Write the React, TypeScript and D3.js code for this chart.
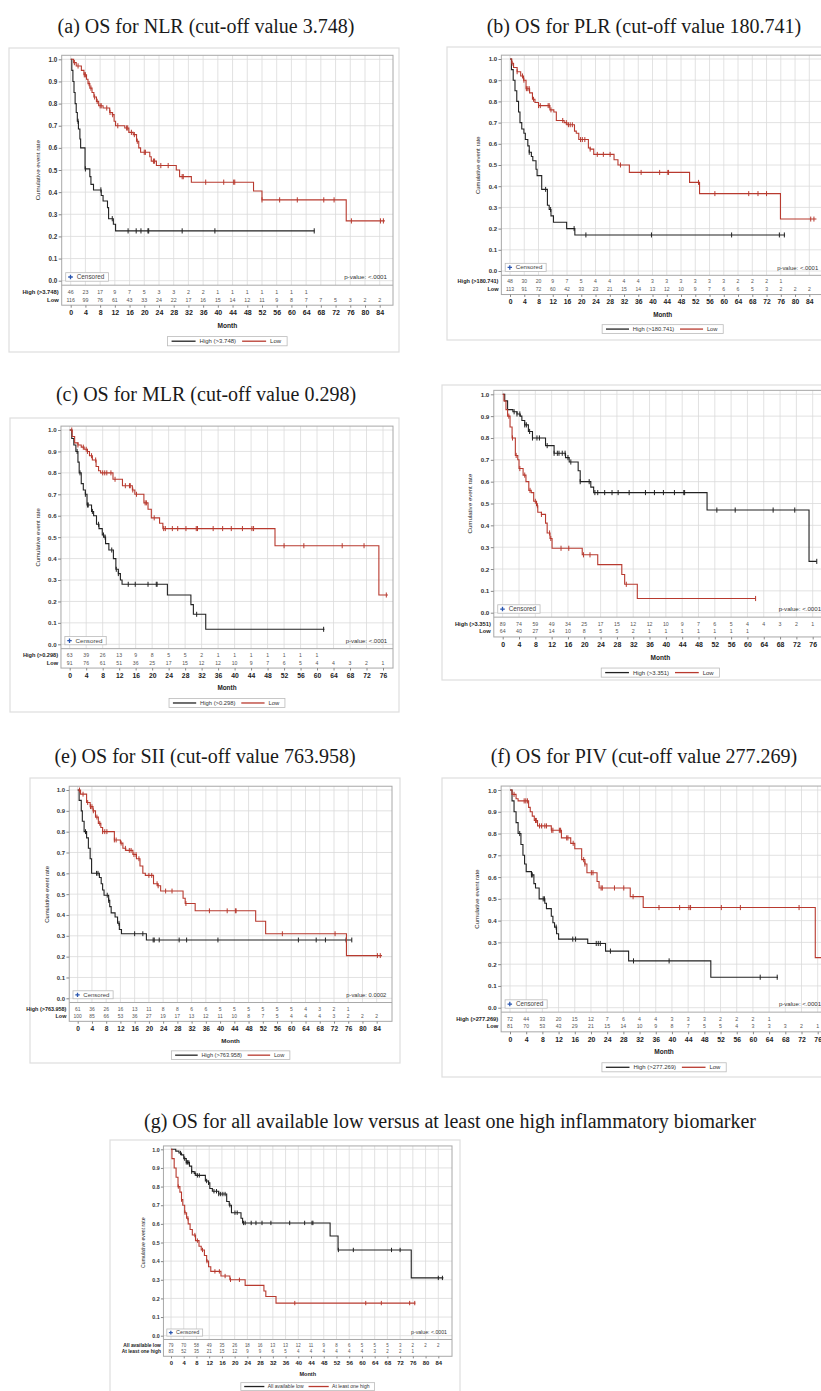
import React, { useEffect, useRef } from 'react';
import * as d3 from 'd3';

type Pt = [number, number];

// tick labels
const months84 = [0, 4, 8, 12, 16, 20, 24, 28, 32, 36, 40, 44, 48, 52, 56, 60, 64, 68, 72, 76, 80, 84];
const months76 = [0, 4, 8, 12, 16, 20, 24, 28, 32, 36, 40, 44, 48, 52, 56, 60, 64, 68, 72, 76];
const rateTicks = [0, 0.1, 0.2, 0.3, 0.4, 0.5, 0.6, 0.7, 0.8, 0.9, 1.0];

// (a) NLR
const nlrHigh: Pt[] = [[0, 1], [0.3, 0.95], [0.6, 0.9], [0.9, 0.85], [1.2, 0.8], [1.5, 0.76], [1.8, 0.72], [2.1, 0.685], [2.5, 0.64], [2.7, 0.6], [3.9, 0.505], [5.2, 0.47], [5.5, 0.435], [6.2, 0.41], [8.3, 0.385], [8.8, 0.36], [10.0, 0.33], [10.3, 0.28], [11.6, 0.255], [12.2, 0.225], [66.3, 0.225]];
const nlrHighCens = [2.0, 4.0, 8.2, 11.3, 15.6, 17.8, 19.1, 21.0, 21.2, 30.3, 39.2, 66.2];
const nlrLow: Pt[] = [[0, 1], [0.8, 0.985], [1.5, 0.97], [2.9, 0.95], [3.6, 0.93], [4.3, 0.91], [4.7, 0.89], [5.2, 0.87], [5.8, 0.85], [6.3, 0.83], [7.0, 0.81], [7.6, 0.79], [8.8, 0.78], [10.6, 0.76], [11.3, 0.75], [11.8, 0.72], [12.2, 0.7], [14.7, 0.69], [15.8, 0.67], [17.0, 0.66], [17.9, 0.63], [18.5, 0.6], [19.0, 0.58], [21.5, 0.56], [21.9, 0.54], [23.3, 0.52], [28.7, 0.5], [29.6, 0.47], [32.8, 0.445], [49.7, 0.405], [52.0, 0.365], [74.9, 0.27], [85.4, 0.27]];
const nlrLowCens = [1.0, 2.0, 3.7, 4.0, 5.0, 5.5, 6.5, 7.2, 8.0, 8.3, 9.8, 10.7, 11.4, 12.8, 15.2, 15.5, 16.5, 17.3, 18.1, 20.0, 20.3, 22.5, 22.8, 24.5, 26.5, 30.3, 30.6, 36.7, 41.6, 44.3, 44.6, 52.0, 56.8, 61.6, 68.8, 71.6, 76.3, 84.2, 85.0];
const nlrRiskHigh = [46, 23, 17, 9, 7, 5, 3, 3, 2, 2, 1, 1, 1, 1, 1, 1, 1];
const nlrRiskLow = [116, 99, 76, 61, 43, 33, 24, 22, 17, 16, 15, 14, 12, 11, 9, 8, 7, 7, 5, 3, 2, 2];

// (b) PLR
const plrHigh: Pt[] = [[0, 1], [0.4, 0.95], [0.9, 0.9], [1.4, 0.85], [1.9, 0.8], [2.4, 0.75], [2.8, 0.7], [3.3, 0.67], [3.9, 0.65], [4.3, 0.62], [5.0, 0.59], [5.4, 0.56], [6.0, 0.54], [6.4, 0.52], [7.3, 0.48], [7.6, 0.45], [8.9, 0.385], [10.5, 0.31], [11.0, 0.29], [11.5, 0.26], [12.2, 0.23], [15.9, 0.2], [18.2, 0.17], [77.2, 0.17]];
const plrHighCens = [5.4, 10.0, 11.4, 18.0, 21.3, 39.7, 62.2, 75.6, 77.0];
const plrLow: Pt[] = [[0, 1], [0.5, 0.98], [1.0, 0.96], [2.0, 0.94], [3.0, 0.92], [3.8, 0.9], [4.5, 0.86], [5.5, 0.84], [6.3, 0.81], [7.0, 0.795], [8.0, 0.78], [11.2, 0.76], [12.3, 0.75], [13.0, 0.71], [15.2, 0.7], [16.0, 0.69], [18.1, 0.66], [18.6, 0.65], [19.3, 0.62], [22.0, 0.58], [22.5, 0.575], [23.5, 0.55], [29.2, 0.525], [30.3, 0.5], [33.5, 0.465], [50.4, 0.418], [53.2, 0.365], [75.9, 0.245], [86.0, 0.245]];
const plrLowCens = [0.6, 2.0, 3.5, 3.9, 4.6, 5.0, 5.4, 6.6, 8.0, 8.5, 10.7, 11.0, 11.5, 14.8, 15.8, 16.4, 16.9, 17.5, 19.8, 20.3, 21.0, 22.5, 24.5, 26.2, 28.1, 31.0, 36.8, 42.0, 44.3, 44.5, 52.9, 57.5, 67.0, 69.6, 72.0, 84.4, 85.3];
const plrRiskHigh = [48, 30, 20, 9, 7, 5, 4, 4, 4, 4, 3, 3, 3, 3, 3, 3, 2, 2, 2, 1];
const plrRiskLow = [113, 91, 72, 60, 42, 33, 23, 21, 15, 14, 13, 12, 10, 9, 7, 6, 6, 5, 3, 2, 2, 2];

// (c) MLR
const mlrHigh: Pt[] = [[0, 1], [0.5, 0.96], [1.0, 0.93], [1.5, 0.9], [2.0, 0.85], [2.3, 0.8], [2.8, 0.75], [3.3, 0.72], [3.8, 0.7], [4.2, 0.65], [5.3, 0.62], [5.8, 0.6], [6.5, 0.56], [7.1, 0.54], [7.9, 0.51], [8.3, 0.5], [8.7, 0.47], [9.5, 0.44], [10.6, 0.4], [11.2, 0.35], [11.8, 0.33], [12.3, 0.3], [12.7, 0.28], [23.7, 0.23], [29.4, 0.185], [30.0, 0.14], [33.0, 0.07], [61.8, 0.07]];
const mlrHighCens = [1.8, 2.5, 3.8, 4.3, 4.5, 5.5, 7.0, 8.2, 8.6, 10.2, 11.3, 11.8, 14.2, 15.9, 19.0, 21.0, 21.2, 30.8, 61.6];
const mlrLow: Pt[] = [[0, 1], [0.6, 0.97], [1.2, 0.94], [2.0, 0.93], [2.8, 0.92], [3.5, 0.91], [4.3, 0.9], [4.8, 0.88], [5.5, 0.86], [6.4, 0.83], [7.0, 0.81], [7.5, 0.8], [10.5, 0.77], [12.8, 0.74], [15.2, 0.72], [15.8, 0.7], [18.0, 0.66], [19.0, 0.63], [19.8, 0.59], [21.8, 0.565], [22.6, 0.54], [49.8, 0.46], [75.0, 0.23], [77.2, 0.23]];
const mlrLowCens = [0.5, 2.0, 3.3, 4.0, 4.3, 5.3, 6.3, 8.0, 8.5, 9.0, 10.0, 11.0, 13.5, 14.5, 14.7, 15.3, 16.2, 18.3, 18.6, 20.5, 22.8, 23.2, 24.9, 26.2, 28.2, 30.7, 31.0, 34.8, 37.1, 39.2, 41.9, 44.2, 44.6, 52.0, 56.8, 66.1, 71.4, 76.8];
const mlrRiskHigh = [63, 39, 26, 13, 9, 8, 5, 5, 2, 1, 1, 1, 1, 1, 1, 1];
const mlrRiskLow = [91, 76, 61, 51, 36, 25, 17, 15, 12, 12, 10, 9, 7, 6, 5, 4, 4, 3, 2, 1];

// (d) LMR
const lmrHigh: Pt[] = [[0, 1], [0.5, 0.97], [1.2, 0.93], [2.5, 0.92], [3.5, 0.91], [4.3, 0.9], [4.7, 0.88], [5.4, 0.86], [6.3, 0.83], [7.3, 0.8], [10.5, 0.765], [12.6, 0.73], [15.4, 0.71], [16.3, 0.69], [18.5, 0.65], [19.0, 0.6], [21.6, 0.575], [22.3, 0.55], [50.1, 0.47], [75.1, 0.235], [77.0, 0.235]];
const lmrHighCens = [2.8, 3.5, 4.2, 5.4, 5.8, 6.6, 7.3, 8.4, 9.0, 10.9, 12.6, 13.4, 13.8, 14.6, 15.3, 16.0, 16.7, 19.0, 21.2, 22.6, 23.3, 25.0, 26.8, 28.3, 31.0, 35.0, 37.2, 39.4, 42.1, 44.4, 44.6, 52.5, 57.0, 66.3, 71.6, 77.0];
const lmrLow: Pt[] = [[0, 1], [0.3, 0.97], [0.8, 0.93], [1.2, 0.9], [1.8, 0.85], [2.3, 0.8], [3.1, 0.72], [3.7, 0.7], [4.0, 0.66], [5.0, 0.63], [5.7, 0.6], [6.4, 0.56], [7.0, 0.55], [7.6, 0.51], [8.3, 0.49], [8.6, 0.46], [9.5, 0.45], [10.5, 0.41], [10.9, 0.365], [11.6, 0.34], [12.1, 0.295], [19.5, 0.265], [23.3, 0.22], [29.2, 0.175], [29.9, 0.13], [33.0, 0.065], [62.0, 0.065]];
const lmrLowCens = [1.5, 2.4, 3.3, 4.2, 5.4, 6.7, 8.0, 8.5, 9.5, 11.5, 11.8, 14.3, 16.2, 19.8, 21.4, 30.3, 62.0];
const lmrRiskHigh = [89, 74, 59, 49, 34, 25, 17, 15, 12, 12, 10, 9, 7, 6, 5, 4, 4, 3, 2, 1];
const lmrRiskLow = [64, 40, 27, 14, 10, 8, 5, 5, 2, 1, 1, 1, 1, 1, 1, 1];

// (e) SII
const siiHigh: Pt[] = [[0, 1], [0.4, 0.95], [1.0, 0.9], [1.3, 0.85], [1.8, 0.8], [2.5, 0.77], [3.0, 0.72], [3.5, 0.67], [3.9, 0.6], [6.1, 0.58], [6.6, 0.55], [7.0, 0.52], [7.4, 0.495], [8.7, 0.47], [9.0, 0.44], [9.4, 0.41], [10.5, 0.39], [11.2, 0.36], [11.7, 0.33], [12.3, 0.31], [19.3, 0.28], [77.0, 0.28]];
const siiHighCens = [2.2, 5.3, 5.7, 8.3, 8.7, 11.6, 16.0, 18.3, 21.2, 21.5, 22.9, 28.5, 30.6, 39.4, 62.0, 67.0, 69.6, 75.4, 77.0];
const siiLow: Pt[] = [[0, 1], [0.8, 0.98], [2.5, 0.94], [3.5, 0.92], [4.3, 0.9], [5.0, 0.87], [5.8, 0.84], [6.5, 0.82], [7.0, 0.8], [10.3, 0.76], [12.0, 0.745], [12.7, 0.72], [13.5, 0.71], [15.5, 0.69], [16.5, 0.67], [17.5, 0.635], [18.3, 0.6], [19.0, 0.59], [21.3, 0.55], [22.5, 0.54], [23.3, 0.515], [29.6, 0.48], [30.2, 0.455], [33.0, 0.42], [50.0, 0.37], [52.8, 0.31], [75.5, 0.205], [85.5, 0.205]];
const siiLowCens = [0.5, 1.5, 2.8, 3.6, 4.0, 4.4, 5.4, 6.2, 7.0, 7.6, 8.2, 10.3, 10.8, 12.2, 13.4, 14.5, 15.0, 15.8, 16.4, 17.2, 20.0, 20.8, 22.3, 22.6, 24.7, 26.5, 30.4, 37.0, 42.0, 44.3, 44.5, 57.5, 72.3, 84.2, 85.0];
const siiRiskHigh = [61, 36, 26, 16, 13, 11, 8, 8, 6, 6, 5, 5, 5, 5, 5, 5, 4, 3, 2, 1];
const siiRiskLow = [100, 85, 66, 53, 36, 27, 19, 17, 13, 12, 11, 10, 8, 7, 5, 4, 4, 4, 3, 2, 2, 2];

// (f) PIV
const pivHigh: Pt[] = [[0, 1], [0.5, 0.95], [1.0, 0.9], [1.5, 0.85], [2.0, 0.8], [2.7, 0.75], [3.2, 0.7], [3.6, 0.66], [4.0, 0.625], [5.3, 0.61], [5.9, 0.57], [6.3, 0.55], [7.2, 0.5], [8.6, 0.48], [9.0, 0.455], [10.2, 0.42], [10.6, 0.39], [11.0, 0.37], [11.5, 0.34], [12.0, 0.315], [19.2, 0.295], [23.6, 0.26], [29.3, 0.215], [49.6, 0.14], [66.2, 0.14]];
const pivHighCens = [2.4, 5.3, 5.5, 8.2, 8.5, 11.4, 15.5, 16.2, 21.3, 21.8, 22.3, 24.8, 30.5, 39.3, 61.8, 66.0];
const pivLow: Pt[] = [[0, 1], [0.5, 0.98], [1.5, 0.96], [2.0, 0.95], [4.6, 0.92], [5.0, 0.9], [5.5, 0.88], [6.0, 0.86], [6.8, 0.835], [10.2, 0.815], [12.7, 0.78], [15.0, 0.755], [16.0, 0.73], [17.7, 0.68], [18.5, 0.66], [19.0, 0.62], [21.5, 0.58], [22.0, 0.55], [29.7, 0.51], [32.9, 0.46], [75.4, 0.23], [77.0, 0.23]];
const pivLowCens = [1.0, 3.5, 3.9, 4.3, 6.3, 6.5, 7.3, 7.8, 8.6, 9.0, 10.3, 10.6, 12.2, 12.5, 14.0, 14.3, 15.6, 18.2, 18.5, 20.1, 20.5, 22.5, 22.8, 25.8, 28.1, 30.4, 36.8, 41.9, 44.2, 44.6, 52.2, 56.9, 71.4, 77.0];
const pivRiskHigh = [72, 44, 33, 20, 15, 12, 7, 6, 4, 4, 3, 3, 3, 2, 2, 2, 1];
const pivRiskLow = [81, 70, 53, 43, 29, 21, 15, 14, 10, 9, 8, 7, 5, 5, 4, 3, 3, 3, 2, 1];

// (g) all low vs at least one high
const allLow: Pt[] = [[0, 1], [1.5, 0.99], [2.5, 0.98], [3.3, 0.97], [4.0, 0.95], [4.8, 0.93], [5.8, 0.91], [6.5, 0.88], [7.3, 0.87], [7.8, 0.86], [10.8, 0.83], [11.8, 0.82], [12.2, 0.79], [13.0, 0.775], [15.0, 0.76], [17.5, 0.72], [18.3, 0.7], [19.0, 0.66], [22.0, 0.63], [22.5, 0.605], [50.0, 0.535], [52.5, 0.46], [75.5, 0.31], [85.6, 0.31]];
const allLowCens = [3.0, 4.3, 4.8, 5.2, 5.6, 6.5, 7.6, 8.3, 8.9, 11.2, 11.8, 13.5, 14.3, 15.0, 15.6, 16.3, 17.0, 18.5, 20.1, 20.8, 22.8, 23.3, 25.2, 26.7, 28.6, 31.4, 37.3, 42.0, 44.3, 44.6, 52.6, 57.3, 69.3, 72.0, 84.0, 85.3];
const anyHigh: Pt[] = [[0, 1], [0.3, 0.95], [1.0, 0.9], [1.6, 0.85], [2.2, 0.8], [2.8, 0.77], [3.3, 0.73], [3.7, 0.7], [4.3, 0.66], [4.9, 0.63], [5.4, 0.6], [6.0, 0.57], [6.7, 0.54], [7.7, 0.51], [8.8, 0.48], [9.5, 0.46], [10.5, 0.43], [11.2, 0.4], [11.8, 0.37], [12.5, 0.345], [15.7, 0.32], [18.5, 0.3], [23.3, 0.27], [29.2, 0.24], [29.8, 0.21], [33.0, 0.175], [76.8, 0.175]];
const anyHighCens = [2.3, 3.3, 4.4, 5.3, 7.5, 8.3, 9.9, 11.3, 13.8, 15.2, 17.0, 18.7, 21.5, 38.9, 61.2, 66.1, 75.0, 76.6];
const allRiskLow = [79, 70, 58, 49, 35, 26, 18, 16, 13, 13, 12, 11, 9, 8, 6, 5, 5, 5, 3, 2, 2, 2];
const allRiskHigh = [83, 52, 35, 21, 15, 12, 9, 9, 6, 5, 4, 4, 4, 4, 4, 4, 3, 2, 2, 1];

const BLACK = '#222';
const RED = '#b83a2f';
const SANS = '"Liberation Sans", Arial, sans-serif';
const SERIF = '"Liberation Serif", "Times New Roman", serif';

// layout of each picture on the page
const panels = [
  { title: '(a) OS for NLR (cut-off value 3.748)', tx: 206, ty: 33, frame: [9, 48, 390, 304], xPx: [70.7, 379.7], ticks: months84, yPx: [280.7, 59.3], boxRight: 393, s: 1,
    names: ['High (>3.748)', 'Low'], p: 'p-value: <.0001',
    series: [[nlrHigh, nlrHighCens, nlrRiskHigh], [nlrLow, nlrLowCens, nlrRiskLow]] },
  { title: '(b) OS for PLR (cut-off value 180.741)', tx: 644, ty: 33, frame: [447, 47, 400, 293], xPx: [510, 809.3], ticks: months84, yPx: [271, 59], boxRight: 824, s: 0.96,
    names: ['High (>180.741)', 'Low'], p: 'p-value: <.0001',
    series: [[plrHigh, plrHighCens, plrRiskHigh], [plrLow, plrLowCens, plrRiskLow]] },
  { title: '(c) OS for MLR (cut-off value 0.298)', tx: 206, ty: 401, frame: [10, 418, 389, 294], xPx: [69.7, 383], ticks: months76, yPx: [644.3, 430], boxRight: 393, s: 0.97,
    names: ['High (>0.298)', 'Low'], p: 'p-value: <.0001',
    series: [[mlrHigh, mlrHighCens, mlrRiskHigh], [mlrLow, mlrLowCens, mlrRiskLow]] },
  { title: '', tx: 0, ty: 0, frame: [442, 385, 400, 295], xPx: [502.7, 812.7], ticks: months76, yPx: [612.7, 394.3], boxRight: 827, s: 0.99,
    names: ['High (>3.351)', 'Low'], p: 'p-value: <.0001',
    series: [[lmrHigh, lmrHighCens, lmrRiskHigh], [lmrLow, lmrLowCens, lmrRiskLow]] },
  { title: '(e) OS for SII (cut-off value 763.958)', tx: 205, ty: 763, frame: [30, 778, 370, 285], xPx: [77.7, 376.7], ticks: months84, yPx: [998.3, 790], boxRight: 392, s: 0.94,
    names: ['High (>763.958)', 'Low'], p: 'p-value: 0.0002',
    series: [[siiHigh, siiHighCens, siiRiskHigh], [siiLow, siiLowCens, siiRiskLow]] },
  { title: '(f) OS for PIV (cut-off value 277.269)', tx: 644, ty: 763, frame: [442, 778, 400, 299], xPx: [510, 817.7], ticks: months76, yPx: [1007.7, 790], boxRight: 827, s: 0.985,
    names: ['High (>277.269)', 'Low'], p: 'p-value: <.0001',
    series: [[pivHigh, pivHighCens, pivRiskHigh], [pivLow, pivLowCens, pivRiskLow]] },
  { title: '(g) OS for all available low versus at least one high inflammatory biomarker', tx: 450, ty: 1128, frame: [110, 1140, 350, 260], xPx: [171, 438.3], ticks: months84, yPx: [1335.7, 1149.3], boxRight: 452, s: 0.84,
    names: ['All available low', 'At least one high'], p: 'p-value: <.0001',
    series: [[allLow, allLowCens, allRiskLow], [anyHigh, anyHighCens, allRiskHigh]] },
];

const survAt = (steps: Pt[], t: number) => {
  let v = steps[0][1];
  for (const [tt, sv] of steps) { if (tt <= t) v = sv; }
  return v;
};

const drawPanel = (svg: any, p: any) => {
  const s = p.s;
  const g = svg.append('g');
  const maxT = p.ticks[p.ticks.length - 1];
  const x = d3.scaleLinear().domain([0, maxT]).range(p.xPx);
  const y = d3.scaleLinear().domain([0, 1]).range(p.yPx);
  const left = p.xPx[0] - 9 * s;
  const right = p.boxRight;
  const top = p.yPx[1] - 4 * s;
  const sep = p.yPx[0] + 4.5 * s;
  const axisY = sep + 20 * s;
  const mid = (left + right) / 2;
  const colors = [BLACK, RED];

  if (p.title) {
    svg.append('text').attr('x', p.tx).attr('y', p.ty).attr('text-anchor', 'middle')
      .attr('font-family', SERIF).attr('font-size', 20).attr('fill', '#1a1a1a').text(p.title);
  }

  g.append('rect').attr('x', p.frame[0]).attr('y', p.frame[1]).attr('width', p.frame[2]).attr('height', p.frame[3])
    .attr('fill', '#fff').attr('stroke', '#dedede').attr('stroke-width', 1.2);

  // grid
  g.append('g').selectAll('line.v').data(p.ticks).join('line')
    .attr('x1', (d: number) => x(d)).attr('x2', (d: number) => x(d)).attr('y1', top).attr('y2', sep)
    .attr('stroke', '#dadada').attr('stroke-width', 0.8);
  g.append('g').selectAll('line.h').data(rateTicks).join('line')
    .attr('x1', left).attr('x2', right).attr('y1', (d: number) => y(d)).attr('y2', (d: number) => y(d))
    .attr('stroke', '#dadada').attr('stroke-width', 0.8);

  g.append('rect').attr('x', left).attr('y', top).attr('width', right - left).attr('height', axisY - top)
    .attr('fill', 'none').attr('stroke', '#a8a8a8').attr('stroke-width', 1);
  g.append('line').attr('x1', left).attr('x2', right).attr('y1', sep).attr('y2', sep)
    .attr('stroke', '#a8a8a8').attr('stroke-width', 1);

  // axes
  const ya = g.append('g').attr('transform', `translate(${left},0)`)
    .call(d3.axisLeft(y).tickValues(rateTicks).tickFormat(d3.format('.1f')).tickSize(3 * s).tickPadding(1.5 * s));
  ya.select('.domain').remove();
  ya.selectAll('line').attr('stroke', '#888');
  ya.selectAll('text').attr('font-family', SANS).attr('font-size', 6.3 * s).attr('font-weight', 'bold').attr('fill', '#333');

  const xa = g.append('g').attr('transform', `translate(0,${axisY})`)
    .call(d3.axisBottom(x).tickValues(p.ticks).tickFormat(d3.format('d')).tickSize(2.5 * s).tickPadding(2.5 * s));
  xa.select('.domain').remove();
  xa.selectAll('line').attr('stroke', '#888');
  xa.selectAll('text').attr('font-family', SANS).attr('font-size', 7 * s).attr('font-weight', 'bold').attr('fill', '#222');

  g.append('text').attr('x', mid).attr('y', axisY + 23 * s).attr('text-anchor', 'middle')
    .attr('font-family', SANS).attr('font-size', 6.6 * s).attr('font-weight', 'bold').attr('fill', '#222').text('Month');

  g.append('text').attr('transform', `translate(${left - 22 * s},${(top + sep) / 2}) rotate(-90)`)
    .attr('text-anchor', 'middle').attr('font-family', SANS).attr('font-size', 6.2 * s).attr('fill', '#222')
    .text('Cumulative event rate');

  // curves
  const line = d3.line<Pt>().x(d => x(d[0])).y(d => y(d[1])).curve(d3.curveStepAfter);
  p.series.forEach((ser: any, i: number) => {
    const [steps, cens, risk] = ser;
    g.append('path').attr('d', line(steps)).attr('fill', 'none').attr('stroke', colors[i]).attr('stroke-width', 1.1);
    g.append('g').selectAll('line').data(cens).join('line')
      .attr('x1', (d: number) => x(d)).attr('x2', (d: number) => x(d))
      .attr('y1', (d: number) => y(survAt(steps, d)) - 2.6 * s).attr('y2', (d: number) => y(survAt(steps, d)) + 2.6 * s)
      .attr('stroke', colors[i]).attr('stroke-width', 1);

    // numbers at risk
    const rowY = sep + (i === 0 ? 8.5 : 16.5) * s;
    g.append('text').attr('x', left - 3 * s).attr('y', rowY).attr('text-anchor', 'end')
      .attr('font-family', SANS).attr('font-size', 5.8 * s).attr('font-weight', 'bold').attr('fill', '#222').text(p.names[i]);
    g.append('g').selectAll('text').data(risk).join('text')
      .attr('x', (_: number, j: number) => x(p.ticks[j])).attr('y', rowY).attr('text-anchor', 'middle')
      .attr('font-family', SANS).attr('font-size', 5.3 * s).attr('fill', '#555').text((d: number) => d);
  });

  // censored inset + p-value
  const cg = g.append('g');
  const cx = left + 4 * s;
  const cy = p.yPx[0] - 8 * s;
  const ct = cg.append('text').attr('x', cx + 11 * s).attr('y', cy + 6.4 * s).attr('font-family', SANS)
    .attr('font-size', 6.4 * s).attr('fill', '#444').text('Censored');
  const cw = (ct.node() as SVGTextElement).getComputedTextLength();
  cg.insert('rect', 'text').attr('x', cx).attr('y', cy).attr('width', cw + 15 * s).attr('height', 8.5 * s)
    .attr('fill', '#fff').attr('stroke', '#bbb').attr('stroke-width', 0.8);
  cg.append('path').attr('d', `M${cx + 4.8 * s},${cy + 2 * s}v${4.6 * s}M${cx + 2.5 * s},${cy + 4.3 * s}h${4.6 * s}`)
    .attr('stroke', '#2a56b0').attr('stroke-width', 1.3);
  g.append('text').attr('x', right - 6 * s).attr('y', p.yPx[0] - 1.5 * s).attr('text-anchor', 'end')
    .attr('font-family', SANS).attr('font-size', 6.2 * s).attr('fill', '#333').text(p.p);

  // legend
  const lg = g.append('g');
  let cur = 4 * s;
  const ly = axisY + 36 * s;
  p.names.forEach((name: string, i: number) => {
    lg.append('line').attr('x1', cur).attr('x2', cur + 24 * s).attr('y1', 0).attr('y2', 0)
      .attr('stroke', colors[i]).attr('stroke-width', 1.3);
    cur += 28 * s;
    const t = lg.append('text').attr('x', cur).attr('y', 2.1 * s).attr('font-family', SANS)
      .attr('font-size', 6 * s).attr('fill', '#333').text(name);
    cur += (t.node() as SVGTextElement).getComputedTextLength() + 6 * s;
  });
  lg.insert('rect', 'line').attr('x', 0).attr('y', -4.6 * s).attr('width', cur).attr('height', 9.2 * s)
    .attr('fill', '#fff').attr('stroke', '#bbb').attr('stroke-width', 0.8);
  lg.attr('transform', `translate(${mid - cur / 2},${ly})`);
};

const App = () => {
  const svgRef = useRef<SVGSVGElement>(null);

  useEffect(() => {
    const svg = d3.select(svgRef.current);
    svg.selectAll('*').remove();
    svg.append('rect').attr('width', 821).attr('height', 1391).attr('fill', '#fff');
    panels.forEach(p => drawPanel(svg, p));
  }, []);

  return (
    <div style={{ position: 'absolute', left: 0, top: 0 }}>
      <svg ref={svgRef} width={821} height={1391} style={{ display: 'block' }}></svg>
    </div>
  );
};

export default App;
